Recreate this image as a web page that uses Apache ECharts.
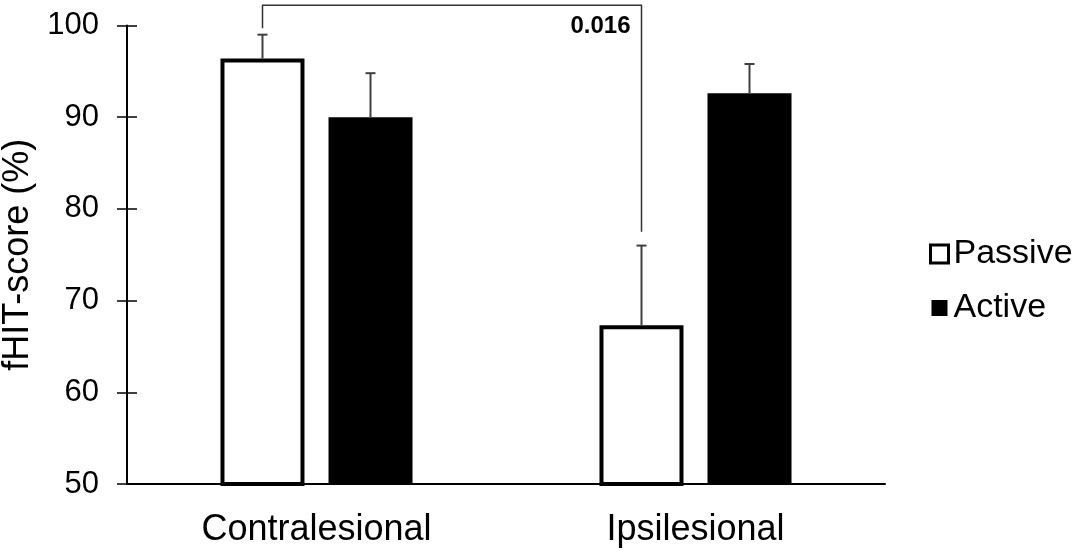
<!DOCTYPE html>
<html>
<head>
<meta charset="utf-8">
<script src="https://cdn.jsdelivr.net/npm/echarts@6/dist/echarts.min.js"></script>
<style>
  html, body { margin: 0; padding: 0; background: #fff; }
  #main { width: 1084px; height: 553px; }
</style>
</head>
<body>
<div id="main"></div>
<script>
var categories = ['Contralesional', 'Ipsilesional'];
var passiveMean = [96.4, 67.3];
var passiveUpper = [99.0, 76.0];
var activeMean = [90.0, 92.6];
var activeUpper = [94.8, 95.8];
// significance bracket between the two passive bars
var bracketTop = 102.2;
var bracketLeftEnd = 99.7;
var bracketRightEnd = 77.5;
var pValue = '0.016';

var barW = 84;
var gapPx = 24;
var half = (barW + gapPx) / 2;

var myChart = echarts.init(document.getElementById('main'));

function errData(mean, upper) {
    var out = [];
    for (var i = 0; i < mean.length; i++) {
        out.push([i, mean[i], upper[i]]);
    }
    return out;
}

function errRender(offset) {
    return function (params, api) {
        var base = api.coord([api.value(0), api.value(1)]);
        var top = api.coord([api.value(0), api.value(2)]);
        var x = base[0] + offset;
        var style = { stroke: '#404040', lineWidth: 2 };
        return {
            type: 'group',
            children: [
                { type: 'line', shape: { x1: x, y1: base[1], x2: x, y2: top[1] }, style: style },
                { type: 'line', shape: { x1: x - 5, y1: top[1], x2: x + 5, y2: top[1] }, style: style }
            ]
        };
    };
}

var option = {
    animation: false,
    grid: {
        left: 127,
        right: 199,
        top: 25.5,
        bottom: 69,
        containLabel: false,
        outerBoundsMode: 'none'
    },
    legend: {
        orient: 'vertical',
        left: 924,
        top: 232,
        icon: 'rect',
        itemWidth: 18,
        itemHeight: 18,
        itemGap: 20,
        itemTextGap: 8,
        textStyle: { fontFamily: 'Liberation Sans', fontSize: 34, color: '#000' },
        data: [
            { name: 'Passive', itemStyle: { color: '#fff', borderColor: '#000', borderWidth: 3 } },
            { name: 'Active', itemStyle: { color: '#000', borderColor: '#fff', borderWidth: 2 } }
        ]
    },
    xAxis: {
        type: 'category',
        data: categories,
        axisLine: { lineStyle: { color: '#000', width: 2 } },
        axisTick: { show: false },
        axisLabel: { margin: 28, fontFamily: 'Liberation Sans', fontSize: 36, color: '#000' }
    },
    yAxis: [{
        type: 'value',
        min: 50,
        max: 100,
        interval: 10,
        name: 'fHIT-score (%)',
        nameLocation: 'middle',
        nameGap: 90,
        nameTextStyle: { fontFamily: 'Liberation Sans', fontSize: 36, color: '#000' },
        axisLine: { show: true, lineStyle: { color: '#000', width: 2 } },
        axisTick: { show: true, length: 10, lineStyle: { color: '#000', width: 1.5 } },
        axisLabel: { margin: 28, fontFamily: 'Liberation Sans', fontSize: 31, color: '#000' },
        splitLine: { show: false }
    }, {
        type: 'value',
        position: 'left',
        min: 50,
        max: 100,
        interval: 10,
        axisLine: { show: false },
        axisTick: { show: true, inside: true, length: 10, lineStyle: { color: '#000', width: 1.5 } },
        axisLabel: { show: false },
        splitLine: { show: false }
    }],
    series: [{
        name: 'Passive',
        type: 'bar',
        barWidth: barW,
        barGap: (gapPx / barW * 100).toFixed(1) + '%',
        data: passiveMean,
        itemStyle: { color: '#fff', borderColor: '#000', borderWidth: 4 }
    }, {
        name: 'Active',
        type: 'bar',
        barWidth: barW,
        data: activeMean,
        itemStyle: { color: '#000' }
    }, {
        type: 'custom',
        z: 5,
        data: errData(passiveMean, passiveUpper),
        renderItem: errRender(-half)
    }, {
        type: 'custom',
        z: 5,
        data: errData(activeMean, activeUpper),
        renderItem: errRender(half)
    }, {
        type: 'custom',
        z: 6,
        clip: false,
        data: [[0, 1]],
        renderItem: function (params, api) {
            var a = api.coord([api.value(0), bracketLeftEnd]);
            var b = api.coord([api.value(1), bracketRightEnd]);
            var t = api.coord([0, bracketTop]);
            var lbl = api.coord([api.value(1), 100]);
            var xl = a[0] - half;
            var xr = b[0] - half;
            return {
                type: 'group',
                children: [{
                    type: 'polyline',
                    shape: { points: [[xl, a[1]], [xl, t[1]], [xr, t[1]], [xr, b[1]]] },
                    style: { stroke: '#333', lineWidth: 1.5, fill: null }
                }, {
                    type: 'text',
                    style: {
                        x: xr - 11,
                        y: lbl[1] + 1,
                        text: pValue,
                        align: 'right',
                        verticalAlign: 'middle',
                        fontFamily: 'Liberation Sans',
                        fontWeight: 'bold',
                        fontSize: 24,
                        fill: '#000'
                    }
                }]
            };
        }
    }]
};

myChart.setOption(option);
</script>
</body>
</html>
